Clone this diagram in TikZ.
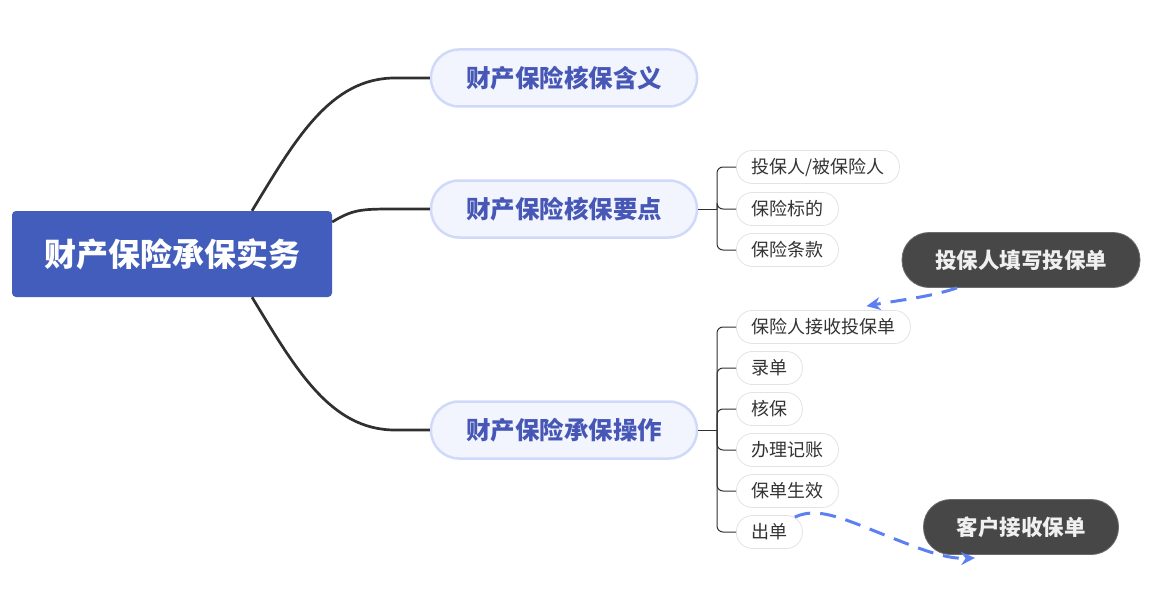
\documentclass[tikz,border=0pt]{standalone}
\usepackage{fontspec}
\setmainfont{Noto Sans CJK SC}
\usetikzlibrary{arrows.meta,calc}
\definecolor{rootblue}{HTML}{425DBB}
\definecolor{lonetext}{HTML}{4657B6}
\definecolor{lonefill}{HTML}{F3F5FE}
\definecolor{loneborder}{HTML}{D0D9F9}
\definecolor{childtext}{HTML}{333333}
\definecolor{childborder}{HTML}{E3E3E3}
\definecolor{darkfill}{HTML}{474747}
\definecolor{darktext}{HTML}{F0F0F0}
\definecolor{arrowblue}{HTML}{5C80F2}
\definecolor{linegray}{HTML}{303030}
\tikzset{
  rootbox/.style={fill=rootblue, text=white, rounded corners=4pt, minimum width=320pt, minimum height=86pt, inner sep=0pt, font=\fontsize{32}{38}\selectfont\bfseries},
  lonebox/.style={fill=lonefill, draw=loneborder, line width=2.5pt, text=lonetext, rounded corners=28pt, minimum width=266pt, minimum height=57pt, inner sep=0pt, font=\fontsize{24.5}{30}\selectfont\bfseries},
  childbox/.style={fill=white, draw=childborder, line width=0.8pt, text=childtext, rounded corners=16pt, minimum height=33pt, inner xsep=15pt, inner ysep=0pt, anchor=west, font=\fontsize{18}{22}\selectfont},
  darkbox/.style={fill=darkfill, draw=darkfill!80!white, line width=0.8pt, text=darktext, rounded corners=27pt, minimum height=55pt, inner xsep=33pt, inner ysep=0pt, font=\fontsize{21.5}{26}\selectfont\bfseries},
  mainlink/.style={draw=linegray, line width=2.7pt},
  bracket/.style={draw=linegray, line width=1pt, rounded corners=6pt},
  dasharrow/.style={draw=arrowblue, line width=3pt, dash pattern=on 16pt off 10pt, -{Stealth[length=14pt,width=13pt]}}
}
\begin{document}
\begin{tikzpicture}[x=1pt,y=-1pt]
\useasboundingbox (0,0) rectangle (1161,591);
\node[rootbox] (root) at (172,254) {财产保险承保实务};
\node[lonebox] (la) at (564,78) {财产保险核保含义};
\node[lonebox] (lb) at (564,209) {财产保险核保要点};
\node[lonebox] (lc) at (564,430) {财产保险承保操作};

\draw[mainlink] ([xshift=80pt]root.north) .. controls (295,140) and (330,78) .. (395,78) -- (la.west);
\draw[mainlink] ([yshift=32pt]root.east) .. controls (352,210) and (360,209) .. (392,209) -- (lb.west);
\draw[mainlink] ([xshift=80pt]root.south) .. controls (295,368) and (330,430) .. (395,430) -- (lc.west);

\node[childbox] (b1) at (736,167) {投保人/被保险人};
\node[childbox] (b2) at (736,209) {保险标的};
\node[childbox] (b3) at (736,250) {保险条款};

\node[childbox] (c1) at (736,327) {保险人接收投保单};
\node[childbox] (c2) at (736,368) {录单};
\node[childbox] (c3) at (736,409) {核保};
\node[childbox] (c4) at (736,450) {办理记账};
\node[childbox] (c5) at (736,491) {保单生效};
\node[childbox] (c6) at (736,532) {出单};

\coordinate (bj) at (717,209);
\coordinate (cj) at (717,430);
\draw[bracket] (lb.east) -- (bj);
\draw[bracket] (lc.east) -- (cj);
\foreach \n in {b1,b2,b3}{\draw[bracket] (bj) |- (\n.west);}
\foreach \n in {c1,c2,c3,c4,c5,c6}{\draw[bracket] (cj) |- (\n.west);}

\node[darkbox] (d1) at (1021,260) {投保人填写投保单};
\node[darkbox] (d2) at (1021,527) {客户接收保单};

\draw[dasharrow] ([xshift=-64pt]d1.south) .. controls (930,297) and (900,300) .. ([xshift=43pt,yshift=4pt]c1.north);
\draw[dasharrow] ([xshift=-8pt,yshift=-2pt]c6.north east) .. controls (820,505) and (850,522) .. (900,541) .. controls (930,553) and (950,559) .. ([xshift=-46pt,yshift=-3pt]d2.south);
\end{tikzpicture}
\end{document}
